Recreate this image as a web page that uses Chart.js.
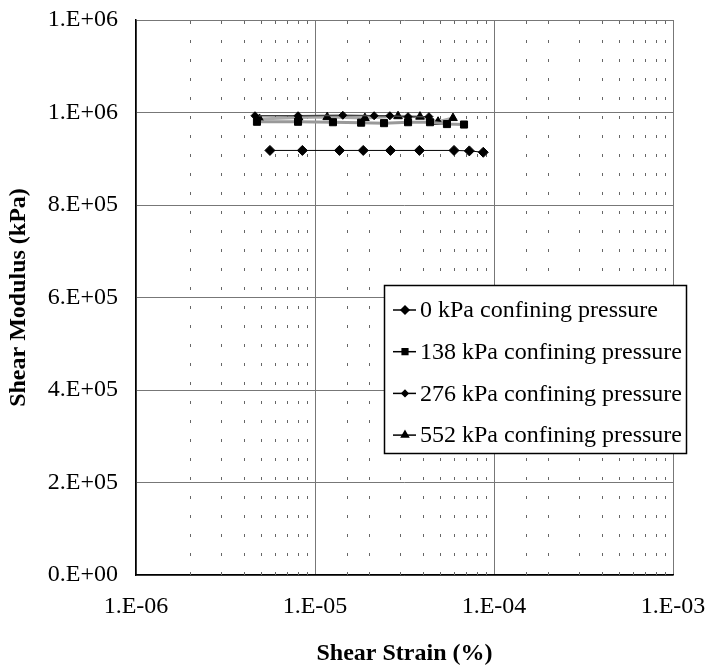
<!DOCTYPE html>
<html>
<head>
<meta charset="utf-8">
<script src="https://cdn.jsdelivr.net/npm/chart.js@4.4.0/dist/chart.umd.min.js"></script>
<style>
  html, body { margin: 0; padding: 0; background: #fff; }
</style>
</head>
<body>
<canvas id="myChart" width="710" height="672"></canvas>
<script>
// Values
var labels = ['0 kPa confining pressure', '138 kPa confining pressure',
              '276 kPa confining pressure', '552 kPa confining pressure'];

var strain0   = [5.6e-6, 8.5e-6, 1.37e-5, 1.86e-5, 2.64e-5, 3.83e-5, 5.98e-5, 7.28e-5, 8.71e-5];
var modulus0  = [918000, 918000, 918000, 918000, 918000, 918000, 918000, 917000, 914000];

var strain138  = [4.74e-6, 8.04e-6, 1.26e-5, 1.81e-5, 2.43e-5, 3.31e-5, 4.39e-5, 5.46e-5, 6.8e-5];
var modulus138 = [980000, 980000, 979000, 978000, 977000, 979000, 979000, 975000, 974000];

var strain276  = [4.62e-6, 8.04e-6, 1.43e-5, 2.14e-5, 2.62e-5, 3.31e-5, 4.33e-5];
var modulus276 = [993000, 993000, 994000, 993000, 993000, 991000, 991000];

var strain552  = [4.9e-6, 8.1e-6, 1.17e-5, 1.9e-5, 2.91e-5, 3.86e-5, 4.87e-5, 5.9e-5];
var modulus552 = [986000, 989000, 990000, 988000, 992000, 991000, 980000, 988000];

var xTicks = [1e-6, 1e-5, 1e-4, 1e-3];
var yMin = 0, yMax = 1200000, yStep = 200000;

function pts(xs, ys) {
    return xs.map(function (x, i) { return { x: x, y: ys[i] }; });
}

function isDecade(v) {
    var m = v / Math.pow(10, Math.floor(Math.log10(v) + 1e-9));
    return Math.abs(m - 1) < 1e-6;
}

// Excel style "0.E+00"
function excelExp(v) {
    var s = Number(v).toExponential(0).split('e');
    var e = parseInt(s[1], 10);
    var sign = e < 0 ? '-' : '+';
    var ea = Math.abs(e);
    return s[0] + '.E' + sign + (ea < 10 ? '0' : '') + ea;
}

var minorGrid = {
    id: 'minorGrid',
    beforeDatasetsDraw: function (chart) {
        var ctx = chart.ctx, xs = chart.scales.x, a = chart.chartArea;
        ctx.save();
        ctx.strokeStyle = '#666';
        ctx.lineWidth = 1;
        ctx.setLineDash([3, 16]);
        xs.ticks.forEach(function (t) {
            if (isDecade(t.value)) return;
            var px = Math.round(xs.getPixelForValue(t.value)) + 0.5;
            ctx.beginPath();
            ctx.moveTo(px, a.bottom);
            ctx.lineTo(px, a.top);
            ctx.stroke();
        });
        ctx.restore();
    }
};

var boxLegend = {
    id: 'boxLegend',
    afterDraw: function (chart) {
        var ctx = chart.ctx;
        var x0 = 384, y0 = 285, w = 302, h = 168;
        ctx.save();
        ctx.fillStyle = '#fff';
        ctx.fillRect(x0, y0, w, h);
        ctx.font = '24px "Liberation Serif", "Times New Roman", serif';
        ctx.textBaseline = 'middle';
        ctx.fillStyle = '#000';
        // clip text to box like the original
        ctx.save();
        ctx.beginPath();
        ctx.rect(x0, y0, w, h);
        ctx.clip();
        chart.data.datasets.forEach(function (ds, i) {
            var y = y0 + 25 + i * 41.7;
            ctx.strokeStyle = '#000';
            ctx.lineWidth = 1.5;
            ctx.setLineDash([]);
            ctx.beginPath();
            ctx.moveTo(x0 + 9, y);
            ctx.lineTo(x0 + 32, y);
            ctx.stroke();
            Chart.helpers.drawPoint(ctx, {
                pointStyle: ds.pointStyle, radius: ds.pointRadius - 1,
                rotation: 0, borderWidth: 1
            }, x0 + 21, y);
            ctx.fillStyle = '#000';
            ctx.fillText(ds.label, x0 + 36, y + 1);
        });
        ctx.restore();
        ctx.strokeStyle = '#000';
        ctx.lineWidth = 1.5;
        ctx.strokeRect(x0 + 0.5, y0 + 0.5, w, h);
        ctx.restore();
    }
};

function makeSet(i, xs, ys, style, r, lineColor, lineW) {
    return {
        label: labels[i],
        data: pts(xs, ys),
        showLine: true,
        borderColor: lineColor,
        borderWidth: lineW,
        backgroundColor: '#000',
        pointBackgroundColor: '#000',
        pointBorderColor: '#000',
        pointStyle: style,
        pointRadius: r,
        pointBorderWidth: 1
    };
}

var serif = '"Liberation Serif", "Times New Roman", serif';

new Chart('myChart', {
    type: 'scatter',
    data: {
        datasets: [
            makeSet(0, strain0, modulus0, 'rectRot', 5, '#000', 1),
            makeSet(1, strain138, modulus138, 'rect', 5, '#999', 3),
            makeSet(2, strain276, modulus276, 'rectRot', 4, '#444', 1.5),
            makeSet(3, strain552, modulus552, 'triangle', 5, '#aaa', 3)
        ]
    },
    options: {
        responsive: false,
        animation: false,
        layout: { padding: { top: 20, right: 37, left: 0, bottom: 0 } },
        plugins: {
            legend: { display: false },
            tooltip: { enabled: false }
        },
        scales: {
            x: {
                type: 'logarithmic',
                min: xTicks[0],
                max: xTicks[xTicks.length - 1],
                afterFit: function (s) {
                    s.height = 97;
                    s.paddingLeft = 0;
                    s.paddingRight = 0;
                },
                border: { color: '#000', width: 1.5 },
                grid: {
                    drawTicks: false,
                    color: function (c) {
                        return c.tick && isDecade(c.tick.value) ? '#777' : 'rgba(0,0,0,0)';
                    }
                },
                ticks: {
                    autoSkip: false,
                    maxRotation: 0,
                    padding: 17,
                    color: '#000',
                    font: { family: serif, size: 24 },
                    callback: function (v) {
                        return xTicks.indexOf(v) >= 0 || isDecade(v) ? excelExp(v) : '';
                    }
                },
                title: {
                    display: true,
                    text: 'Shear Strain (%)',
                    color: '#000',
                    font: { family: serif, size: 24, weight: 'bold' },
                    padding: { top: 14 }
                }
            },
            y: {
                min: yMin,
                max: yMax,
                afterFit: function (s) {
                    s.width = 136;
                    s.paddingTop = 0;
                    s.paddingBottom = 0;
                },
                border: { color: '#000', width: 1.5 },
                grid: { drawTicks: false, color: '#777' },
                ticks: {
                    stepSize: yStep,
                    padding: 18,
                    color: '#000',
                    font: { family: serif, size: 24 },
                    callback: function (v) { return excelExp(v); }
                },
                title: {
                    display: true,
                    text: 'Shear Modulus (kPa)',
                    color: '#000',
                    font: { family: serif, size: 24, weight: 'bold' },
                    padding: { bottom: 2 }
                }
            }
        }
    },
    plugins: [minorGrid, boxLegend]
});
</script>
</body>
</html>
